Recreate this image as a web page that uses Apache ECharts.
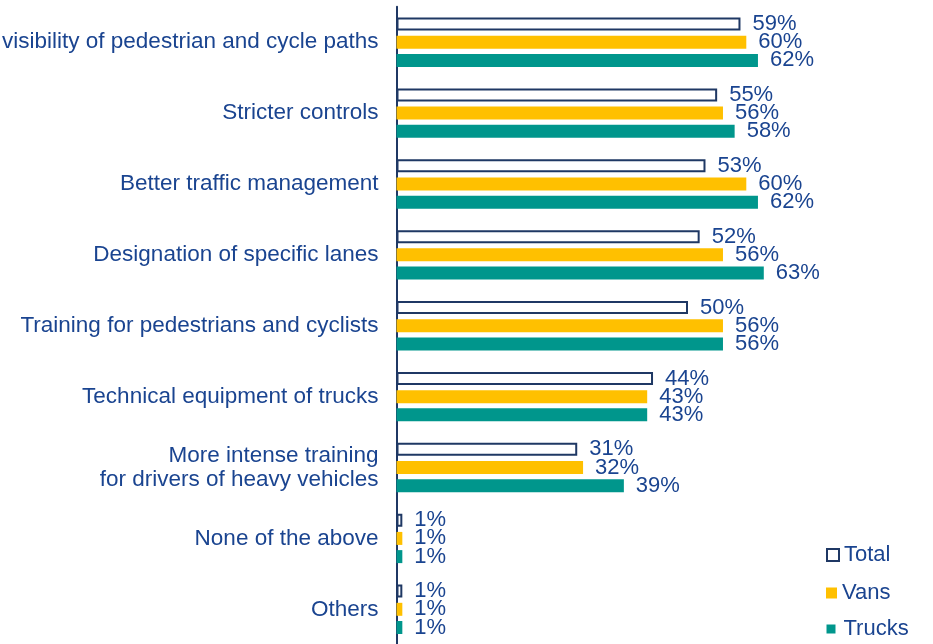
<!DOCTYPE html>
<html>
<head>
<meta charset="utf-8">
<script src="https://cdn.jsdelivr.net/npm/echarts@6/dist/echarts.min.js"></script>
<style>
  html, body { margin: 0; padding: 0; background: #fff; }
  #chart { width: 933px; height: 644px; }
</style>
</head>
<body>
<div id="chart"></div>
<script>
// Measures listed from top to bottom
const categories = [
  'Better visibility of pedestrian and cycle paths',
  'Stricter controls',
  'Better traffic management',
  'Designation of specific lanes',
  'Training for pedestrians and cyclists',
  'Technical equipment of trucks',
  'More intense training\nfor drivers of heavy vehicles',
  'None of the above',
  'Others'
];
const totalValues = [59, 55, 53, 52, 50, 44, 31, 1, 1];
const vansValues = [60, 56, 60, 56, 56, 43, 32, 1, 1];
const trucksValues = [62, 58, 62, 63, 56, 43, 39, 1, 1];

const TEXT = '#1a4490';
const NAVY = '#1f3864';
const FONT = '"Liberation Sans", Arial, sans-serif';

const chart = echarts.init(document.getElementById('chart'));

const valueLabel = {
  show: true,
  position: 'right',
  distance: 12,
  color: TEXT,
  fontSize: 22,
  fontFamily: FONT,
  padding: [2, 0, 0, 0],
  formatter: p => p.value + '%'
};

function legendFor(name, top, left, size, textPad) {
  return {
    data: [name],
    orient: 'vertical',
    left: left,
    top: top,
    itemWidth: size,
    itemHeight: size,
    icon: 'rect',
    selectedMode: false,
    textStyle: { color: TEXT, fontSize: 22, fontFamily: FONT, padding: [0, 0, 0, textPad] }
  };
}

chart.setOption({
  animation: false,
  backgroundColor: '#fff',
  grid: {
    left: 396.5, top: 6.75, height: 638, width: 583,
    containLabel: false, outerBoundsMode: 'none'
  },
  xAxis: { type: 'value', min: 0, max: 100, show: false },
  yAxis: {
    type: 'category',
    data: categories,
    inverse: true,
    axisLine: { show: true, lineStyle: { color: NAVY, width: 2 } },
    axisTick: { show: false },
    axisLabel: {
      margin: 18,
      color: TEXT,
      fontSize: 22.5,
      lineHeight: 24,
      fontFamily: FONT,
      align: 'right',
      verticalAlign: 'middle',
      padding: [9, 0, 0, 0]
    }
  },
  legend: [
    legendFor('Total', 539, 821, 12, 0),
    legendFor('Vans', 577, 821, 11, 0),
    legendFor('Trucks', 613, 821.5, 9, 3)
  ],
  series: [
    {
      name: 'Total', type: 'bar', data: totalValues,
      barWidth: 13, barGap: '40%',
      itemStyle: { color: '#ffffff', borderColor: NAVY, borderWidth: 2 },
      label: valueLabel
    },
    {
      name: 'Vans', type: 'bar', data: vansValues,
      barWidth: 13, barGap: '40%',
      itemStyle: { color: '#ffc000' },
      label: valueLabel
    },
    {
      name: 'Trucks', type: 'bar', data: trucksValues,
      barWidth: 13, barGap: '40%',
      itemStyle: { color: '#00968c' },
      label: valueLabel
    }
  ]
});
</script>
</body>
</html>
